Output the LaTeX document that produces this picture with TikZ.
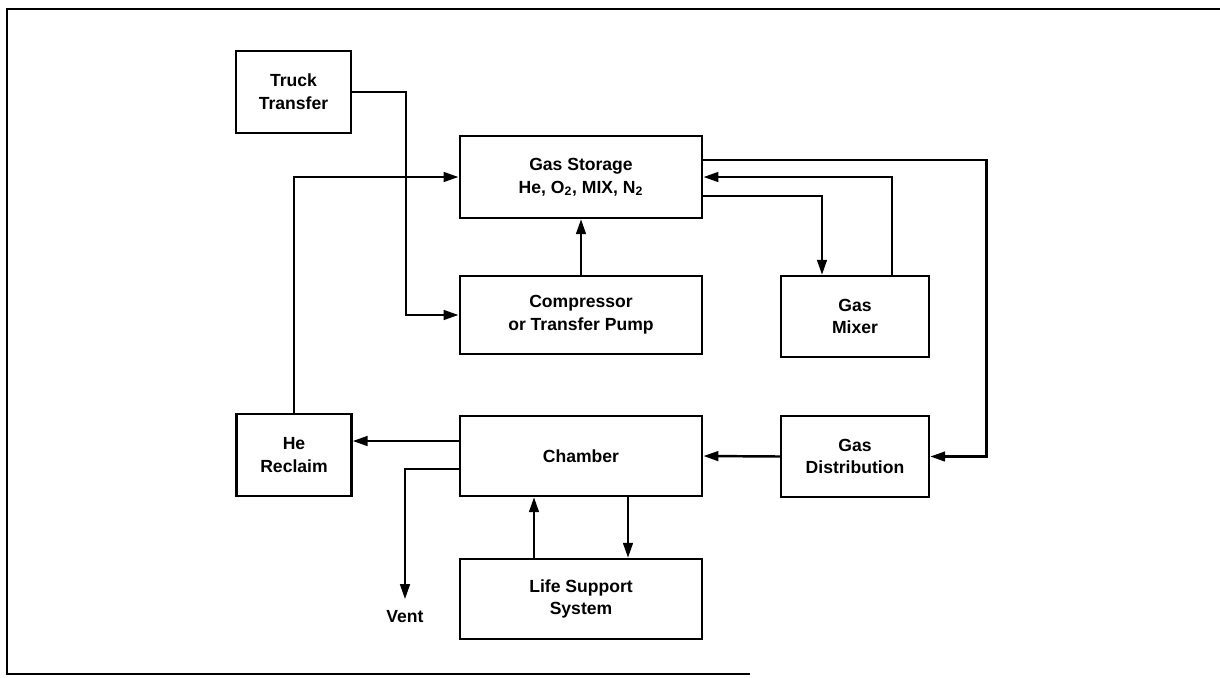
\documentclass[tikz,border=0pt]{standalone}
\usepackage{fontspec}
\setmainfont{Liberation Sans}
\usepackage{tikz}
\usetikzlibrary{arrows.meta,calc}

\begin{document}
\begin{tikzpicture}[x=0.02cm, y=-0.02cm, >={Triangle[length=8.5pt,width=5.5pt]}, line width=1.4pt,
    font=\bfseries\fontsize{10}{13}\selectfont]
    \tikzstyle{wide} = [draw, rectangle, align=center, minimum width=4.85cm, minimum height=1.6cm]
    \tikzstyle{small} = [draw, rectangle, align=center, minimum width=2.3cm, minimum height=1.64cm]
    \tikzstyle{mid} = [draw, rectangle, align=center, minimum width=2.96cm, minimum height=1.62cm]

    \useasboundingbox (0,0) rectangle (1220,677);
    \draw (1220,9) -- (7,9) -- (7,674) -- (750,674);

    \node [small] (truck) at (293.5,92) {Truck\\Transfer};
    \node [wide, minimum height=1.64cm] (storage) at (581,177) {Gas Storage\\He, O\textsubscript{2}, MIX, N\textsubscript{2}};
    \node [wide, minimum height=1.56cm] (comp) at (581,315) {Compressor\\or Transfer Pump};
    \node [mid] (mixer) at (855,316.5) {Gas\\Mixer};
    \node [small] (reclaim) at (294,455) {He\\Reclaim};
    \node [wide] (chamber) at (581,456) {Chamber};
    \node [mid] (dist) at (855,456.5) {Gas\\Distribution};
    \node [wide] (life) at (581,599) {Life Support\\System};
    \node [inner sep=6pt] (vent) at (405,617) {Vent};

    \draw [->] (truck.east) -- ++(54,0) |- (comp.west);
    \draw [->] (reclaim.north) |- (storage.west);
    \draw [->] (comp.north) -- (storage.south);
    \draw [->] ($(storage.east)+(0,-17)$) -- ++(283,0) |- (dist.east);
    \draw [->] ($(mixer.north)+(37,0)$) |- (storage.east);
    \draw [->] ($(storage.east)+(0,19)$) -| ($(mixer.north)+(-33,0)$);
    \draw [->] (dist.west) -- (chamber.east);
    \draw [->] ($(chamber.west)+(0,-15)$) -- ($(reclaim.east)+(0,-14)$);
    \draw [->] ($(chamber.west)+(0,13)$) -| (vent.north);
    \draw [->] ($(life.north)+(-47,0)$) -- ($(chamber.south)+(-47,0)$);
    \draw [->] ($(chamber.south)+(47,0)$) -- ($(life.north)+(47,0)$);
\end{tikzpicture}
\end{document}
